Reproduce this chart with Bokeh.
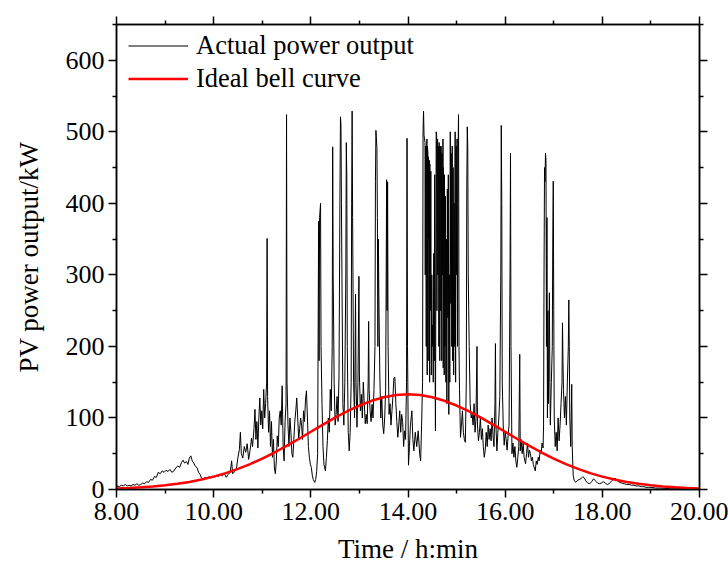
from bokeh.plotting import figure
from bokeh.models import (LinearAxis, FixedTicker, PrintfTickFormatter, Range1d,
                          Legend, LegendItem)
from bokeh.embed import file_html
from bokeh.resources import INLINE

FONT = "Liberation Serif"

# ---------------- data ----------------
x_major = [8, 10, 12, 14, 16, 18, 20]
x_minor = [9, 11, 13, 15, 17, 19]
y_major = [0, 100, 200, 300, 400, 500, 600]
y_minor = [50, 150, 250, 350, 450, 550, 650]

# Actual power output (time in hours, power in kW)
actual_power = [
    (8.00, 3), (8.03, 5), (8.06, 4), (8.10, 6), (8.14, 5), (8.18, 7), (8.22, 5), (8.26, 6),
    (8.30, 5), (8.34, 7), (8.38, 6), (8.42, 8), (8.46, 6), (8.50, 7), (8.54, 9), (8.58, 8),
    (8.62, 11), (8.66, 10), (8.70, 14), (8.74, 13), (8.78, 18), (8.82, 17), (8.86, 24), (8.90, 22),
    (8.94, 26), (8.98, 24), (9.02, 27), (9.06, 25), (9.10, 28), (9.14, 24), (9.18, 26), (9.22, 30),
    (9.26, 33), (9.30, 31), (9.34, 38), (9.37, 41), (9.40, 37), (9.44, 39), (9.47, 35), (9.50, 44),
    (9.53, 47), (9.56, 40), (9.59, 37), (9.62, 33), (9.66, 30), (9.69, 24), (9.72, 21), (9.75, 16),
    (9.78, 14), (9.82, 17), (9.86, 15), (9.90, 18), (9.94, 16), (9.98, 19), (10.02, 17), (10.06, 20),
    (10.10, 18), (10.14, 21), (10.18, 19), (10.22, 22), (10.26, 17), (10.30, 21), (10.34, 24),
    (10.37, 40), (10.39, 22), (10.43, 25), (10.47, 30), (10.50, 45), (10.53, 56), (10.55, 80),
    (10.57, 50), (10.60, 44), (10.63, 60), (10.66, 52), (10.69, 64), (10.72, 42), (10.75, 55),
    (10.78, 72), (10.80, 60), (10.83, 85), (10.85, 112), (10.87, 70), (10.89, 95), (10.91, 58),
    (10.93, 100), (10.95, 128), (10.97, 90), (10.99, 110), (11.01, 85), (11.03, 140), (11.05, 100),
    (11.07, 120), (11.09, 150), (11.10, 351), (11.11, 130), (11.13, 80), (11.15, 110), (11.17, 60),
    (11.19, 95), (11.21, 45), (11.23, 70), (11.25, 30), (11.27, 22), (11.29, 40), (11.31, 75),
    (11.33, 60), (11.35, 100), (11.37, 110), (11.39, 90), (11.41, 145), (11.43, 60), (11.45, 40),
    (11.47, 95), (11.49, 120), (11.50, 524), (11.51, 150), (11.53, 90), (11.55, 60), (11.57, 100),
    (11.59, 80), (11.61, 50), (11.63, 45), (11.65, 70), (11.67, 95), (11.69, 110), (11.71, 128),
    (11.73, 100), (11.75, 70), (11.77, 85), (11.79, 100), (11.81, 90), (11.83, 70), (11.85, 110),
    (11.87, 95), (11.89, 125), (11.91, 138), (11.93, 100), (11.95, 60), (11.97, 45), (11.99, 35),
    (12.01, 31), (12.03, 20), (12.05, 14), (12.08, 10), (12.10, 14), (12.12, 25), (12.14, 50),
    (12.16, 375), (12.17, 180), (12.18, 380), (12.20, 400), (12.21, 200), (12.23, 120), (12.25, 60),
    (12.27, 35), (12.30, 26), (12.32, 45), (12.34, 68), (12.36, 100), (12.38, 80), (12.40, 140),
    (12.42, 110), (12.44, 200), (12.45, 479), (12.46, 300), (12.48, 150), (12.50, 90), (12.52, 105),
    (12.54, 130), (12.56, 95), (12.58, 160), (12.60, 420), (12.61, 521), (12.62, 510), (12.63, 400),
    (12.64, 300), (12.66, 120), (12.68, 90), (12.70, 150), (12.72, 300), (12.73, 485), (12.74, 440),
    (12.75, 200), (12.77, 80), (12.79, 54), (12.81, 80), (12.83, 150), (12.84, 400), (12.85, 529),
    (12.86, 380), (12.88, 150), (12.90, 100), (12.92, 273), (12.93, 150), (12.95, 87), (12.97, 150),
    (12.99, 298), (13.00, 160), (13.02, 110), (13.04, 133), (13.06, 100), (13.08, 150), (13.10, 120),
    (13.12, 92), (13.14, 105), (13.16, 92), (13.18, 150), (13.19, 235), (13.20, 140), (13.22, 110),
    (13.24, 95), (13.26, 119), (13.28, 100), (13.30, 140), (13.32, 200), (13.33, 430), (13.34, 502),
    (13.35, 490), (13.36, 477), (13.37, 380), (13.38, 200), (13.39, 350), (13.40, 273), (13.42, 160),
    (13.44, 100), (13.46, 130), (13.48, 90), (13.50, 78), (13.52, 100), (13.54, 140), (13.56, 433),
    (13.57, 250), (13.58, 430), (13.59, 200), (13.61, 105), (13.63, 120), (13.65, 90), (13.67, 110),
    (13.69, 130), (13.71, 156), (13.73, 157), (13.75, 120), (13.77, 95), (13.79, 73), (13.81, 90),
    (13.83, 110), (13.85, 80), (13.87, 105), (13.89, 95), (13.91, 60), (13.93, 82), (13.95, 70),
    (13.97, 150), (13.98, 491), (13.99, 200), (14.01, 34), (14.03, 60), (14.05, 90), (14.08, 110),
    (14.10, 70), (14.12, 54), (14.15, 80), (14.18, 60), (14.21, 82), (14.24, 50), (14.26, 40),
    (14.28, 90), (14.30, 150), (14.31, 500), (14.32, 529), (14.33, 495), (14.34, 490), (14.35, 485),
    (14.355, 300), (14.36, 480), (14.37, 475), (14.375, 200), (14.38, 470), (14.39, 490),
    (14.395, 160), (14.40, 480), (14.41, 470), (14.415, 180), (14.42, 465), (14.43, 350),
    (14.44, 460), (14.445, 150), (14.45, 455), (14.46, 250), (14.47, 445), (14.48, 160), (14.49, 300),
    (14.50, 200), (14.51, 230), (14.52, 150), (14.53, 330), (14.54, 180), (14.55, 440), (14.56, 140),
    (14.565, 82), (14.57, 200), (14.58, 500), (14.59, 495), (14.595, 250), (14.60, 485), (14.61, 490),
    (14.615, 300), (14.62, 480), (14.63, 475), (14.635, 200), (14.64, 485), (14.65, 470),
    (14.655, 180), (14.66, 480), (14.67, 460), (14.675, 250), (14.68, 480), (14.69, 440),
    (14.695, 180), (14.70, 470), (14.71, 300), (14.72, 490), (14.725, 170), (14.73, 450),
    (14.74, 380), (14.745, 160), (14.75, 440), (14.76, 200), (14.77, 410), (14.78, 150), (14.79, 350),
    (14.80, 120), (14.81, 420), (14.82, 240), (14.83, 440), (14.84, 105), (14.85, 300), (14.86, 150),
    (14.87, 500), (14.88, 260), (14.89, 470), (14.90, 200), (14.91, 480), (14.92, 180), (14.93, 450),
    (14.94, 160), (14.95, 400), (14.96, 200), (14.97, 500), (14.98, 150), (14.99, 480), (15.00, 300),
    (15.01, 490), (15.02, 200), (15.03, 470), (15.04, 524), (15.045, 400), (15.05, 200), (15.06, 140),
    (15.08, 73), (15.10, 90), (15.12, 110), (15.14, 80), (15.16, 70), (15.18, 66), (15.20, 150),
    (15.21, 420), (15.22, 507), (15.23, 480), (15.24, 300), (15.25, 250), (15.26, 200), (15.28, 120),
    (15.30, 100), (15.32, 105), (15.34, 90), (15.36, 120), (15.38, 80), (15.40, 100), (15.42, 200),
    (15.43, 90), (15.45, 68), (15.47, 80), (15.49, 100), (15.51, 70), (15.53, 85), (15.55, 60),
    (15.57, 45), (15.59, 55), (15.61, 80), (15.63, 60), (15.65, 90), (15.67, 70), (15.69, 85),
    (15.71, 68), (15.73, 100), (15.75, 75), (15.77, 60), (15.79, 120), (15.80, 204), (15.81, 90),
    (15.83, 54), (15.85, 80), (15.87, 100), (15.89, 130), (15.91, 300), (15.92, 509), (15.93, 400),
    (15.94, 150), (15.96, 90), (15.98, 62), (16.00, 80), (16.02, 70), (16.04, 55), (16.06, 75),
    (16.08, 90), (16.10, 300), (16.11, 470), (16.12, 200), (16.14, 50), (16.16, 65), (16.18, 45),
    (16.20, 60), (16.22, 40), (16.24, 31), (16.26, 45), (16.28, 60), (16.30, 189), (16.31, 54),
    (16.33, 70), (16.35, 50), (16.37, 65), (16.39, 45), (16.42, 36), (16.44, 50), (16.46, 65),
    (16.48, 45), (16.50, 55), (16.52, 50), (16.54, 40), (16.56, 45), (16.58, 35), (16.60, 30),
    (16.62, 26), (16.64, 40), (16.66, 35), (16.68, 45), (16.70, 40), (16.72, 55), (16.74, 50),
    (16.76, 65), (16.78, 58), (16.79, 90), (16.80, 300), (16.81, 450), (16.82, 430), (16.83, 470),
    (16.84, 460), (16.85, 200), (16.86, 380), (16.87, 100), (16.88, 250), (16.89, 120), (16.91, 275),
    (16.92, 150), (16.93, 90), (16.95, 150), (16.97, 200), (16.98, 350), (16.99, 431), (17.00, 250),
    (17.01, 100), (17.03, 60), (17.05, 80), (17.07, 54), (17.09, 100), (17.11, 68), (17.13, 90),
    (17.15, 120), (17.17, 150), (17.18, 233), (17.19, 180), (17.20, 140), (17.22, 100), (17.24, 130),
    (17.26, 90), (17.28, 150), (17.30, 200), (17.31, 265), (17.32, 200), (17.33, 100), (17.35, 60),
    (17.37, 147), (17.38, 60), (17.40, 20), (17.42, 13), (17.45, 10), (17.48, 12), (17.52, 14),
    (17.56, 15), (17.60, 18), (17.63, 16), (17.66, 12), (17.70, 9), (17.74, 8), (17.78, 11),
    (17.82, 15), (17.86, 12), (17.90, 9), (17.94, 8), (17.98, 9), (18.02, 11), (18.06, 9), (18.10, 7),
    (18.14, 8), (18.18, 11), (18.22, 14), (18.26, 16), (18.30, 13), (18.35, 10), (18.40, 9),
    (18.45, 8), (18.50, 7), (18.55, 7), (18.60, 6), (18.65, 6), (18.70, 5), (18.75, 5), (18.80, 4),
    (18.85, 4), (18.90, 3), (18.95, 3), (19.00, 3), (19.10, 2), (19.20, 2), (19.30, 1.5), (19.40, 1),
    (19.50, 1), (19.60, 1), (19.70, 0.5), (19.80, 0.5), (19.90, 0), (20.00, 0),
]
actual_t = [a for a, b in actual_power]
actual_kw = [b for a, b in actual_power]

# Ideal bell curve, read every quarter hour
bell_t = [8.00, 8.25, 8.50, 8.75, 9.00, 9.25, 9.50, 9.75, 10.00, 10.25, 10.50, 10.75,
          11.00, 11.25, 11.50, 11.75, 12.00, 12.25, 12.50, 12.75, 13.00, 13.25, 13.50, 13.75,
          14.00, 14.25, 14.50, 14.75, 15.00, 15.25, 15.50, 15.75, 16.00, 16.25, 16.50, 16.75,
          17.00, 17.25, 17.50, 17.75, 18.00, 18.25, 18.50, 18.75, 19.00, 19.25, 19.50, 19.75, 20.00]
bell_kw = [1.5, 2.1, 3.0, 4.2, 5.8, 7.9, 10.6, 13.9, 18.0, 22.9, 28.8, 35.5,
           43.2, 51.7, 60.9, 70.6, 80.7, 90.7, 100.4, 109.4, 117.4, 124.0, 128.9, 132.0,
           133.0, 132.0, 128.9, 124.0, 117.4, 109.4, 100.4, 90.7, 80.7, 70.6, 60.9, 51.7,
           43.2, 35.5, 28.8, 22.9, 18.0, 13.9, 10.6, 7.9, 5.8, 4.2, 3.0, 2.1, 1.5]

# ---------------- figure ----------------
p = figure(width=728, height=571, x_range=Range1d(8, 20), y_range=Range1d(0, 650),
           output_backend="svg", toolbar_location=None,
           min_border_left=116, min_border_right=29, min_border_top=24, min_border_bottom=82)
p.xgrid.visible = False
p.ygrid.visible = False
p.outline_line_color = "black"
p.outline_line_width = 1.5
p.background_fill_color = "white"
p.border_fill_color = "white"

r_act = p.line(actual_t, actual_kw, line_color="black", line_width=1)
r_bell = p.line(bell_t, bell_kw, line_color="#ff0000", line_width=2.5)


def style(ax):
    ax.axis_line_width = 1.5
    ax.axis_line_color = "black"
    ax.major_tick_out = 8
    ax.major_tick_in = 0
    ax.minor_tick_out = 4
    ax.minor_tick_in = 0
    ax.major_tick_line_width = 1.5
    ax.minor_tick_line_width = 1.5
    ax.major_tick_line_color = "black"
    ax.minor_tick_line_color = "black"
    ax.major_label_text_font = FONT
    ax.major_label_text_font_size = "26px"
    ax.major_label_text_color = "black"
    ax.axis_label_text_font = FONT
    ax.axis_label_text_font_size = "27px"
    ax.axis_label_text_font_style = "normal"
    ax.axis_label_text_color = "black"


xb = p.xaxis[0]
xb.ticker = FixedTicker(ticks=x_major, minor_ticks=x_minor)
xb.formatter = PrintfTickFormatter(format="%.2f")
xb.axis_label = "Time / h:min"
style(xb)
xb.major_label_standoff = 5
xb.axis_label_standoff = 11

yl = p.yaxis[0]
yl.ticker = FixedTicker(ticks=y_major, minor_ticks=y_minor)
yl.axis_label = "PV power output/kW"
style(yl)
yl.major_label_standoff = 4
yl.axis_label_standoff = 19

# mirrored tick-only axes on top and right (labels not drawn)
xt = LinearAxis(ticker=FixedTicker(ticks=x_major, minor_ticks=x_minor))
style(xt)
xt.major_label_text_color = None
xt.major_label_text_font_size = "0px"
xt.major_label_standoff = 0
p.add_layout(xt, "above")

yr = LinearAxis(ticker=FixedTicker(ticks=y_major, minor_ticks=y_minor))
style(yr)
yr.major_label_text_color = None
yr.major_label_text_font_size = "0px"
yr.major_label_standoff = 0
p.add_layout(yr, "right")

legend = Legend(items=[LegendItem(label="Actual power output", renderers=[r_act]),
                       LegendItem(label="Ideal bell curve", renderers=[r_bell])],
                location=(12, 394), border_line_color=None, background_fill_alpha=0,
                label_text_font=FONT, label_text_font_size="26.5px", label_text_color="black",
                glyph_width=60, glyph_height=33, label_height=33, spacing=0,
                padding=0, margin=0, label_standoff=8)
p.add_layout(legend)

open("out.html", "w").write(file_html(p, INLINE))
